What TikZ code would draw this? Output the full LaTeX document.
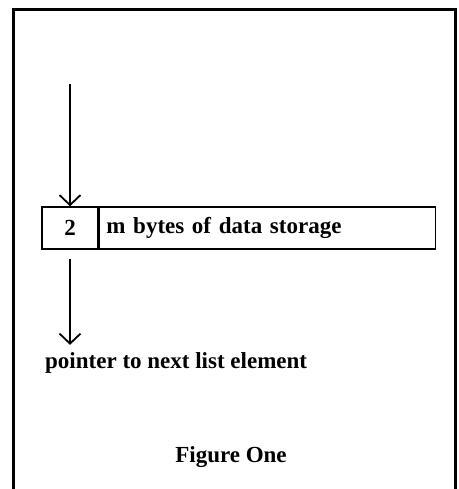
\documentclass[tikz,border=0pt]{standalone}
\usepackage{fontspec}
\setmainfont{Liberation Serif}
\usetikzlibrary{arrows.meta}

\begin{document}
\begin{tikzpicture}[x=1pt,y=-1pt,
    cell/.style={draw,line width=1.4pt,minimum height=42pt,inner sep=0pt,
      font=\fontsize{23}{27}\selectfont\bfseries},
    ptr/.style={line width=1.8pt,-{Straight Barb[length=10pt,width=21pt,line width=1.8pt]}},
    lbl/.style={inner sep=0pt,font=\fontsize{23}{27}\selectfont\bfseries}]
    \useasboundingbox (0,0) rectangle (458,489);
    \draw[line width=3pt] (13,489) -- (13,10) -- (455,10) -- (455,489);
    \node[cell,minimum width=56pt] (num) at (70,228) {2};
    \node[cell,anchor=west,text width=322pt,inner xsep=7pt,align=left] (data) at (num.east) {m bytes of data storage};
    \coordinate (head) at (70,84);
    \draw[ptr] (head) -- (num.north);
    \node[lbl,anchor=base west] (nxt) at (45,368) {pointer to next list element};
    \draw[ptr,shorten <=9pt,shorten >=7pt] (num.south) -- (num.south |- nxt.north);
    \node[lbl,anchor=base] (cap) at (231,462) {Figure One};
  \end{tikzpicture}
\end{document}
